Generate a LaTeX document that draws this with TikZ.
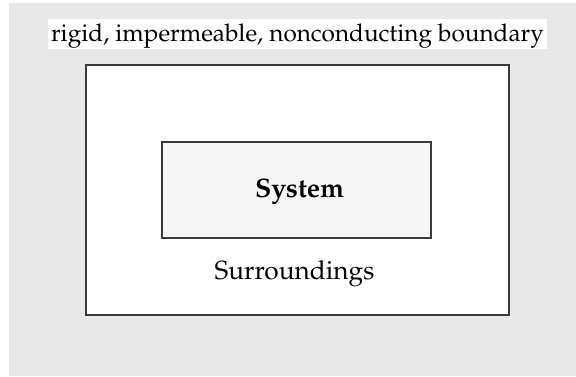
\documentclass[tikz,border=0pt]{standalone}
\usepackage[T1]{fontenc}
\usepackage{mathpazo}
\definecolor{bgc}{HTML}{E8E8E8}
\definecolor{sysfill}{HTML}{F6F6F6}
\definecolor{edge}{HTML}{3A3A3A}
\tikzset{
  boxline/.style={draw=edge, line width=1.3bp, inner sep=0pt},
  bigtext/.style={font=\fontsize{26.3}{30}\selectfont, inner sep=0pt},
  toptext/.style={font=\fontsize{24.4}{28}\selectfont, inner sep=0pt}
}
\begin{document}
\begin{tikzpicture}[x=1bp,y=-1bp]
\useasboundingbox (0,0) rectangle (576,376);
\fill[bgc] (9,3) rectangle (576,376);
\node[fill=white, minimum width=499bp, minimum height=30bp, inner sep=0pt] (labelbox) at (297.5,34) {};
\node[toptext, anchor=base] (label) at (297.5,41) {rigid, impermeable, nonconducting boundary};
\node[boxline, fill=white, minimum width=423bp, minimum height=250bp] (outer) at (297.5,190) {};
\node[boxline, fill=sysfill, minimum width=269bp, minimum height=96bp] (system) at (296.5,190) {};
\node[anchor=base, inner sep=0pt, font=\fontsize{26.8}{30}\selectfont\bfseries] (systext) at (299.5,197) {System};
\node[bigtext, anchor=base] (surr) at (294.5,279) {Surroundings};
\end{tikzpicture}
\end{document}
